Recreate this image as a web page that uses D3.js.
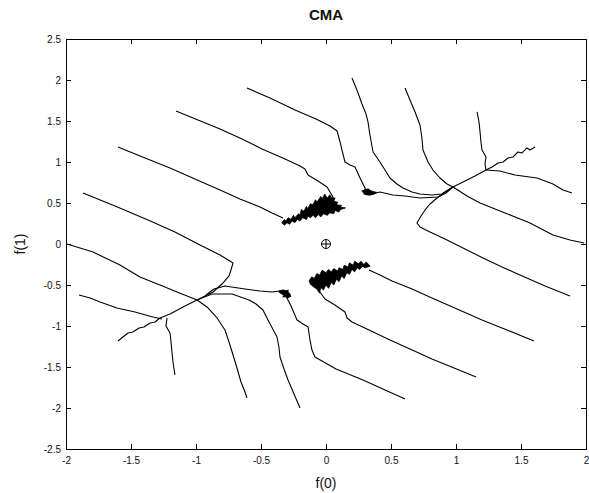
<!DOCTYPE html>
<html><head><meta charset="utf-8">
<script src="https://cdn.jsdelivr.net/npm/d3@7"></script>
<style>
html,body{margin:0;padding:0;background:#fff;}
svg text{font-family:"Liberation Sans",Arial,Helvetica,sans-serif;fill:#111;}
</style></head><body>
<svg id="chart" width="589" height="493"></svg>
<script>
const titleText = "CMA";
const xLabel = "f(0)";
const yLabel = "f(1)";
const xTicks = [-2,-1.5,-1,-0.5,0,0.5,1,1.5,2];
const yTicks = [-2.5,-2,-1.5,-1,-0.5,0,0.5,1,1.5,2,2.5];

// trajectories, [f(0), f(1)] pairs
const trajA = [[-0.608,1.902],[-0.431,1.780],[-0.238,1.634],[-0.077,1.524],[0.031,1.439],[0.085,1.378],[0.108,1.244],[0.123,1.146],[0.146,1.000],[0.185,0.963],[0.223,0.939],[0.262,0.805],[0.292,0.707],[0.308,0.659],[0.277,0.646],[0.323,0.671],[0.354,0.634],[0.292,0.610],[0.338,0.598],[0.385,0.622],[0.415,0.634],[0.515,0.598],[0.608,0.585],[0.723,0.561],[0.862,0.573],[0.923,0.622],[0.977,0.695]];
const trajB = [[0.200,2.024],[0.238,1.878],[0.277,1.707],[0.308,1.585],[0.323,1.488],[0.338,1.329],[0.362,1.122],[0.415,1.000],[0.454,0.902],[0.492,0.805],[0.546,0.732],[0.592,0.683],[0.662,0.634],[0.723,0.610],[0.815,0.598],[0.892,0.610],[0.977,0.695]];
const trajC = [[0.608,1.902],[0.646,1.756],[0.685,1.610],[0.723,1.451],[0.738,1.293],[0.746,1.146],[0.785,1.000],[0.823,0.902],[0.877,0.805],[0.931,0.732],[0.977,0.695]];
const trajD = [[1.162,1.610],[1.177,1.488],[1.185,1.366],[1.192,1.244],[1.200,1.146],[1.231,1.061],[1.223,0.976],[1.231,0.902]];
const trajE = [[1.608,1.183],[1.569,1.146],[1.546,1.171],[1.508,1.110],[1.477,1.122],[1.438,1.061],[1.400,1.049],[1.362,1.000],[1.323,0.988],[1.277,0.939],[1.231,0.902],[1.146,0.829],[1.069,0.768],[0.977,0.695],[0.915,0.634],[0.854,0.561],[0.800,0.488],[0.762,0.415],[0.731,0.341],[0.700,0.256],[0.723,0.207],[0.800,0.146],[0.931,0.049],[1.069,-0.061],[1.208,-0.171],[1.354,-0.280],[1.492,-0.378],[1.685,-0.512],[1.877,-0.634]];
const trajF = [[1.231,0.902],[1.338,0.890],[1.454,0.841],[1.623,0.805],[1.746,0.732],[1.823,0.659],[1.892,0.622]];
const trajG = [[0.977,0.695],[1.085,0.585],[1.185,0.500],[1.377,0.378],[1.569,0.256],[1.746,0.110],[1.877,0.049],[1.985,0.012]];
const trajH = [[-1.154,1.622],[-0.985,1.512],[-0.815,1.402],[-0.646,1.280],[-0.492,1.159],[-0.315,1.037],[-0.200,0.951],[-0.162,0.915],[-0.138,0.841],[-0.062,0.768],[0.008,0.695],[0.031,0.634],[0.054,0.573]];
const trajI = [[-1.600,1.183],[-1.392,1.049],[-1.200,0.927],[-1.008,0.793],[-0.815,0.659],[-0.662,0.549],[-0.508,0.451],[-0.415,0.378],[-0.331,0.317]];
const trajJ = [[-1.869,0.622],[-1.623,0.463],[-1.369,0.293],[-1.162,0.146],[-0.969,-0.012],[-0.815,-0.134],[-0.715,-0.232],[-0.731,-0.317],[-0.746,-0.390],[-0.800,-0.488],[-0.869,-0.585],[-0.931,-0.634],[-0.992,-0.683],[-1.085,-0.756],[-1.200,-0.854],[-1.277,-0.902],[-1.315,-0.951],[-1.354,-0.963],[-1.400,-1.012],[-1.438,-1.024],[-1.485,-1.073],[-1.523,-1.085],[-1.562,-1.134],[-1.600,-1.183]];
const trajK = [[-1.992,0.000],[-1.792,-0.098],[-1.585,-0.256],[-1.431,-0.402],[-1.277,-0.500],[-1.146,-0.585],[-0.992,-0.683]];
const trajL = [[-0.992,-0.683],[-0.915,-0.768],[-0.838,-0.902],[-0.777,-1.049],[-0.746,-1.195],[-0.715,-1.354],[-0.685,-1.512],[-0.654,-1.683],[-0.623,-1.805],[-0.608,-1.878]];
const trajM = [[-1.262,-0.915],[-1.331,-0.890],[-1.469,-0.829],[-1.608,-0.780],[-1.738,-0.707],[-1.815,-0.659],[-1.900,-0.622]];
const trajN = [[-1.223,-0.902],[-1.231,-1.000],[-1.200,-1.085],[-1.192,-1.195],[-1.185,-1.317],[-1.177,-1.439],[-1.162,-1.598]];
const trajO = [[-0.992,-0.683],[-0.877,-0.610],[-0.723,-0.610],[-0.592,-0.683],[-0.538,-0.732],[-0.485,-0.805],[-0.446,-0.927],[-0.377,-1.134],[-0.362,-1.256],[-0.354,-1.378],[-0.323,-1.524],[-0.292,-1.659],[-0.246,-1.829],[-0.200,-2.000]];
const trajP = [[-0.923,-0.622],[-0.862,-0.549],[-0.777,-0.512],[-0.623,-0.549],[-0.508,-0.573],[-0.415,-0.585],[-0.354,-0.573],[-0.315,-0.598],[-0.285,-0.634],[-0.331,-0.646],[-0.292,-0.561],[-0.300,-0.659],[-0.269,-0.756],[-0.223,-0.927],[-0.177,-0.976],[-0.138,-1.012],[-0.123,-1.171],[-0.108,-1.293],[-0.085,-1.378],[0.077,-1.524],[0.285,-1.659],[0.454,-1.780],[0.608,-1.890]];
const trajQ = [[1.154,-1.622],[0.985,-1.512],[0.815,-1.402],[0.646,-1.280],[0.492,-1.171],[0.315,-1.037],[0.200,-0.951],[0.162,-0.902],[0.146,-0.829],[0.069,-0.744],[-0.008,-0.671],[-0.046,-0.585]];
const trajR = [[1.600,-1.183],[1.392,-1.049],[1.200,-0.927],[1.008,-0.793],[0.815,-0.659],[0.662,-0.549],[0.508,-0.451],[0.415,-0.378],[0.331,-0.317]];

// dense jitter regions (outlines)
const blobUpper = [[-0.34,0.26],[-0.32,0.30],[-0.31,0.28],[-0.29,0.32],[-0.27,0.30],[-0.25,0.35],[-0.24,0.32],[-0.21,0.37],[-0.20,0.35],[-0.19,0.42],[-0.17,0.40],[-0.15,0.46],[-0.14,0.43],[-0.12,0.49],[-0.10,0.48],[-0.08,0.54],[-0.07,0.51],[-0.04,0.58],[-0.03,0.55],[-0.01,0.61],[0.01,0.56],[0.03,0.60],[0.04,0.57],[0.07,0.56],[0.06,0.52],[0.09,0.51],[0.08,0.48],[0.12,0.47],[0.11,0.45],[0.15,0.44],[0.11,0.42],[0.10,0.39],[0.07,0.41],[0.06,0.37],[0.03,0.38],[0.01,0.35],[-0.02,0.37],[-0.04,0.33],[-0.06,0.36],[-0.08,0.32],[-0.10,0.35],[-0.12,0.32],[-0.14,0.34],[-0.15,0.30],[-0.18,0.32],[-0.20,0.28],[-0.22,0.30],[-0.24,0.26],[-0.26,0.28],[-0.28,0.24],[-0.30,0.26],[-0.32,0.23]];
const blobLower = [[-0.13,-0.45],[-0.11,-0.40],[-0.09,-0.42],[-0.07,-0.36],[-0.05,-0.38],[-0.03,-0.32],[0.00,-0.35],[0.02,-0.31],[0.04,-0.34],[0.06,-0.30],[0.09,-0.33],[0.10,-0.29],[0.13,-0.31],[0.14,-0.26],[0.17,-0.28],[0.18,-0.23],[0.21,-0.26],[0.22,-0.21],[0.25,-0.24],[0.27,-0.21],[0.29,-0.25],[0.31,-0.22],[0.34,-0.27],[0.30,-0.29],[0.28,-0.27],[0.26,-0.31],[0.24,-0.29],[0.22,-0.34],[0.20,-0.31],[0.18,-0.37],[0.16,-0.35],[0.14,-0.42],[0.12,-0.39],[0.10,-0.46],[0.08,-0.43],[0.06,-0.50],[0.04,-0.47],[0.02,-0.54],[0.00,-0.50],[-0.02,-0.56],[-0.04,-0.53],[-0.05,-0.60],[-0.07,-0.55],[-0.09,-0.53],[-0.12,-0.49]];
const blobUpperSmall = [[0.28,0.64],[0.30,0.67],[0.33,0.66],[0.36,0.64],[0.39,0.63],[0.37,0.61],[0.34,0.60],[0.31,0.60],[0.29,0.62]];
const blobLowerSmall = [[-0.36,-0.57],[-0.33,-0.56],[-0.30,-0.57],[-0.28,-0.60],[-0.27,-0.64],[-0.30,-0.66],[-0.32,-0.63],[-0.34,-0.61],[-0.36,-0.59]];
const optimum = [0, 0];

const trajectories = [trajA,trajB,trajC,trajD,trajE,trajF,trajG,trajH,trajI,trajJ,trajK,trajL,trajM,trajN,trajO,trajP,trajQ,trajR];
const blobs = [blobUpper,blobLower,blobUpperSmall,blobLowerSmall];

const W = 589, H = 493;
const plot = {left:66, right:586, top:39, bottom:449};
const svg = d3.select("#chart");
const x = d3.scaleLinear().domain([-2,2]).range([plot.left, plot.right]);
const y = d3.scaleLinear().domain([-2.5,2.5]).range([plot.bottom, plot.top]);

svg.append("rect").attr("width",W).attr("height",H).attr("fill","#fff");

const line = d3.line().x(d=>x(d[0])).y(d=>y(d[1]));
const g = svg.append("g");
g.selectAll("path.traj").data(trajectories).join("path")
  .attr("class","traj").attr("d",line)
  .attr("fill","none").attr("stroke","#000").attr("stroke-width",1.1)
  .attr("stroke-linejoin","round");
g.selectAll("path.blob").data(blobs).join("path")
  .attr("class","blob").attr("d",d=>line(d)+"Z")
  .attr("fill","#000").attr("stroke","#000").attr("stroke-width",0.8);

// optimum marker: circle with plus
const mg = g.append("g").attr("transform",`translate(${x(optimum[0])},${y(optimum[1])})`);
mg.append("circle").attr("r",4.5).attr("fill","none").attr("stroke","#000").attr("stroke-width",1);
mg.append("path").attr("d","M-4.5,0H4.5M0,-4.5V4.5").attr("stroke","#000").attr("stroke-width",1);

// axes box
const axG = svg.append("g").attr("font-size",14);
const fmt = d => String(d);
axG.append("g").attr("transform",`translate(0,${plot.bottom})`)
  .call(d3.axisBottom(x).tickValues(xTicks).tickFormat(fmt).tickSizeInner(-5).tickSizeOuter(0).tickPadding(8));
axG.append("g").attr("transform",`translate(${plot.left},0)`)
  .call(d3.axisLeft(y).tickValues(yTicks).tickFormat(fmt).tickSizeInner(-5).tickSizeOuter(0).tickPadding(5));
axG.append("g").attr("transform",`translate(0,${plot.top})`)
  .call(d3.axisTop(x).tickValues(xTicks).tickFormat("").tickSizeInner(-5).tickSizeOuter(0));
axG.append("g").attr("transform",`translate(${plot.right},0)`)
  .call(d3.axisRight(y).tickValues(yTicks).tickFormat("").tickSizeInner(-5).tickSizeOuter(0));
axG.selectAll(".domain").remove();
axG.selectAll("text").attr("font-family",'"Liberation Sans",Arial,sans-serif').attr("fill","#111");
axG.selectAll(".tick line").attr("stroke","#000");
svg.append("rect").attr("x",plot.left+0.5).attr("y",plot.top+0.5)
  .attr("width",plot.right-plot.left).attr("height",plot.bottom-plot.top)
  .attr("fill","none").attr("stroke","#000").attr("stroke-width",1);

svg.append("text").attr("x",(plot.left+plot.right)/2).attr("y",20)
  .attr("text-anchor","middle").attr("font-size",15).attr("font-weight","bold").text(titleText);
svg.append("text").attr("x",(plot.left+plot.right)/2).attr("y",488)
  .attr("text-anchor","middle").attr("font-size",14).text(xLabel);
svg.append("text").attr("transform",`translate(25,${y(0)}) rotate(-90)`)
  .attr("text-anchor","middle").attr("font-size",14).text(yLabel);
</script>
</body></html>
